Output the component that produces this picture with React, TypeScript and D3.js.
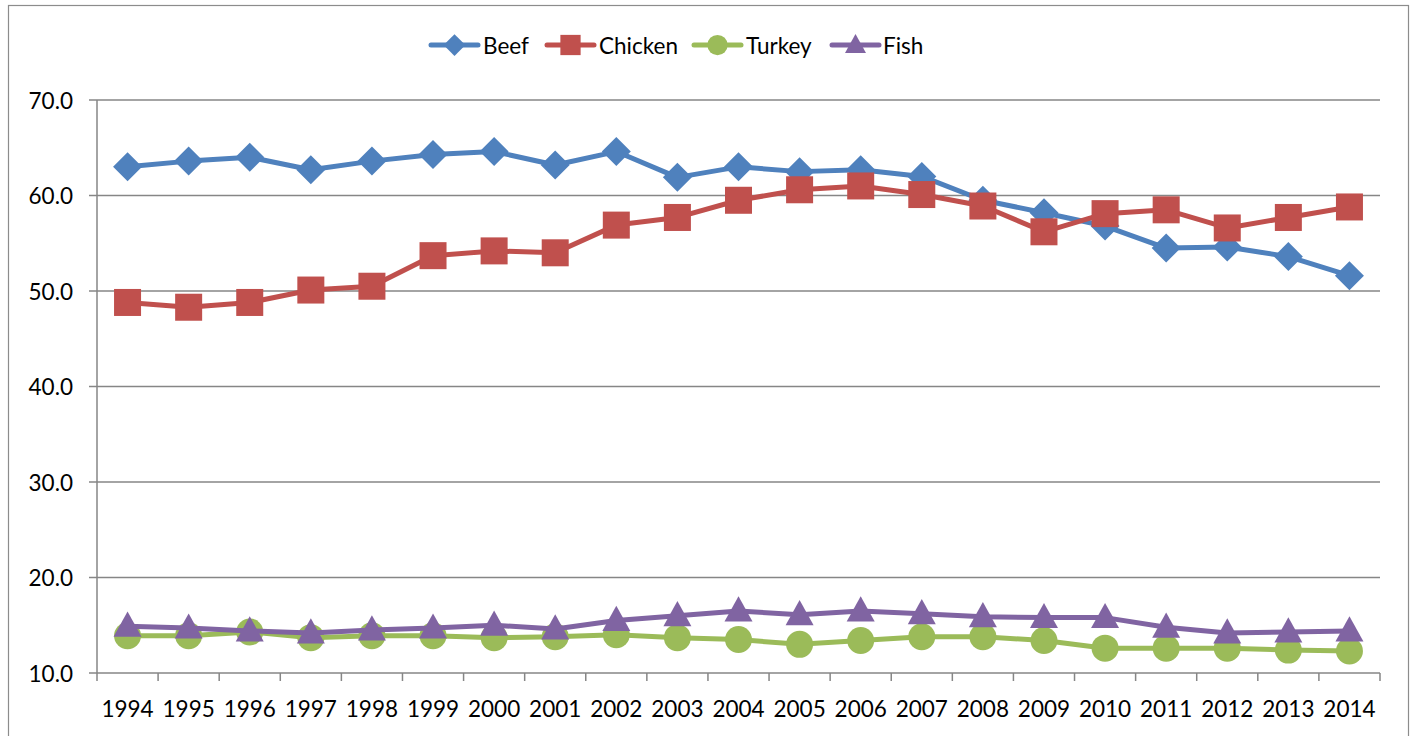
import React, { useEffect } from "react";
import * as d3 from "d3";

const years = ["1994","1995","1996","1997","1998","1999","2000","2001","2002","2003","2004","2005","2006","2007","2008","2009","2010","2011","2012","2013","2014"];
const beef = [63.0,63.6,64.0,62.7,63.6,64.3,64.6,63.2,64.6,61.9,63.0,62.5,62.7,62.0,59.5,58.2,56.8,54.5,54.6,53.6,51.6];
const chicken = [48.8,48.3,48.8,50.1,50.5,53.7,54.2,54.0,56.9,57.7,59.5,60.6,61.0,60.1,58.9,56.2,58.1,58.5,56.6,57.7,58.8];
const turkey = [13.9,13.9,14.3,13.7,13.9,13.9,13.7,13.8,14.0,13.7,13.5,13.0,13.4,13.8,13.8,13.4,12.6,12.6,12.6,12.4,12.3];
const fish = [14.9,14.7,14.4,14.2,14.5,14.7,15.0,14.6,15.5,16.0,16.5,16.1,16.5,16.2,15.9,15.8,15.8,14.8,14.2,14.3,14.4];
const yTicks = [10, 20, 30, 40, 50, 60, 70];

const seriesList = [
  { name: "Beef", values: beef, color: "#4F81BD", marker: "diamond" },
  { name: "Chicken", values: chicken, color: "#C0504D", marker: "square" },
  { name: "Turkey", values: turkey, color: "#9BBB59", marker: "circle" },
  { name: "Fish", values: fish, color: "#8064A2", marker: "triangle" },
];

const W = 1416, H = 736;
const left = 97, right = 1380, top = 100, bottom = 673;
const FONT = "Lato, 'Liberation Sans', sans-serif";

function Marker({ type, x, y, color, s = 1 }: { type: string; x: number; y: number; color: string; s?: number }) {
  if (type === "diamond") {
    const r = 14.5 * s;
    return <path d={`M${x},${y - r}L${x + r},${y}L${x},${y + r}L${x - r},${y}Z`} fill={color} />;
  }
  if (type === "square") {
    const r = 13.5 * s;
    return <rect x={x - r} y={y - r} width={2 * r} height={2 * r} fill={color} />;
  }
  if (type === "circle") {
    return <circle cx={x} cy={y} r={13.5 * s} fill={color} />;
  }
  const r = 14 * s;
  return <path d={`M${x},${y - r * 1.05}L${x + r},${y + r * 0.75}L${x - r},${y + r * 0.75}Z`} fill={color} />;
}

export default function App() {
  useEffect(() => {
    document.body.style.margin = "0";
  }, []);
  const x = d3.scaleBand<string>().domain(years).range([left, right]);
  const y = d3.scaleLinear().domain([10, 70]).range([bottom, top]);
  const cx = (d: string) => (x(d) as number) + x.bandwidth() / 2;
  const line = d3.line<number>().x((_, i) => cx(years[i])).y((v) => y(v));
  const legendItems = [
    { xs: 431, tx: 483 },
    { xs: 547, tx: 599 },
    { xs: 694, tx: 746 },
    { xs: 832, tx: 883 },
  ];
  return (
    <svg width={W} height={H} style={{ display: "block", fontFamily: FONT }}>
      <rect x={0} y={0} width={W} height={H} fill="#fff" />
      <rect x={8.5} y={5.5} width={1400} height={740} fill="none" stroke="#8c8c8c" strokeWidth={1.2} />
      {yTicks.map((t) => (
        <g key={t}>
          <line x1={left - 8} x2={right} y1={y(t)} y2={y(t)} stroke="#868686" strokeWidth={1.5} />
          <text x={73} y={y(t)} textAnchor="end" dominantBaseline="central" fontSize={22.5} fill="#000">
            {t.toFixed(1)}
          </text>
        </g>
      ))}
      <line x1={left} x2={left} y1={top} y2={bottom} stroke="#868686" strokeWidth={1.5} />
      {years.map((yr, i) => (
        <line key={"t" + i} x1={x(yr)} x2={x(yr)} y1={bottom} y2={bottom + 8} stroke="#868686" strokeWidth={1.5} />
      ))}
      <line x1={right} x2={right} y1={bottom} y2={bottom + 8} stroke="#868686" strokeWidth={1.5} />
      {years.map((yr) => (
        <text key={yr} x={cx(yr)} y={708} textAnchor="middle" dominantBaseline="central" fontSize={22.5} fill="#000">
          {yr}
        </text>
      ))}
      {seriesList.map((s) => (
        <g key={s.name}>
          <path d={line(s.values) || ""} fill="none" stroke={s.color} strokeWidth={5} strokeLinejoin="round" strokeLinecap="round" />
          {s.values.map((v, i) => (
            <Marker key={i} type={s.marker} x={cx(years[i])} y={y(v)} color={s.color} />
          ))}
        </g>
      ))}
      {seriesList.map((s, i) => {
        const it = legendItems[i];
        return (
          <g key={"lg" + s.name}>
            <line x1={it.xs} x2={it.xs + 47} y1={45} y2={45} stroke={s.color} strokeWidth={5} strokeLinecap="round" />
            <Marker type={s.marker} x={it.xs + 23.5} y={45} color={s.color} s={0.75} />
            <text x={it.tx} y={45} dominantBaseline="central" fontSize={22.5} fill="#000">
              {s.name}
            </text>
          </g>
        );
      })}
    </svg>
  );
}
